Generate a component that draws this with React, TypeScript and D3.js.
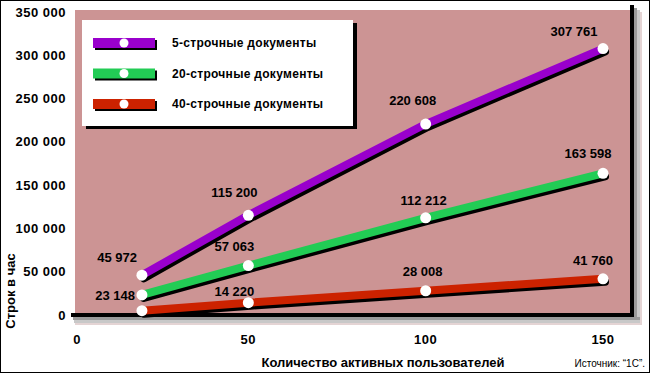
import React from "react";
import * as d3 from "d3";

const users = [20, 50, 100, 150];
const docs5 = [45972, 115200, 220608, 307761];
const docs20 = [23148, 57063, 112212, 163598];
const docs40 = [5000, 14220, 28008, 41760];
const labels5 = ["45 972", "115 200", "220 608", "307 761"];
const labels20 = ["23 148", "57 063", "112 212", "163 598"];
const labels40 = ["", "14 220", "28 008", "41 760"];
const seriesNames = ["5-строчные документы", "20-строчные документы", "40-строчные документы"];
const yTicks = [0, 50000, 100000, 150000, 200000, 250000, 300000, 350000];
const xTicks = [0, 50, 100, 150];

const colors = ["#9900cc", "#22cc55", "#cc2200"];
// label nudges relative to the point [dx, dy]
const nudges = [
  [[-5, -18], [-14, -23], [-13, -24], [-29, -17]],
  [[-7, 1], [-14, -19], [-2, -17], [-15, -20]],
  [[0, 0], [-14, -11], [-3, -19], [-10, -18]],
];

const W = 650;
const H = 373;
const font = "'Liberation Sans', Arial, sans-serif";

const App: React.FC = () => {
  const x = d3.scaleLinear().domain([0, 150]).range([71, 603]);
  const y = d3.scaleLinear().domain([0, 350000]).range([315, 12]);
  const fmt = (v: number) => d3.format(",")(v).replace(/,/g, " ");

  const series = [docs5, docs20, docs40];
  const labels = [labels5, labels20, labels40];
  const line = d3
    .line<number>()
    .x((_, i) => x(users[i]))
    .y((d) => y(d));

  const plot = { left: 75, right: 630, top: 10, bottom: 313 };

  return (
    <svg
      width={W}
      height={H}
      style={{ position: "absolute", left: 0, top: 0, background: "#fff" }}
      fontFamily={font}
    >
      <rect x={0.5} y={0.5} width={W - 1} height={H - 1} fill="#fff" stroke="#000" />

      {/* plot shadow */}
      <rect x={634} y={8} width={3} height={317} fill="#9a9a9a" />
      <rect x={637} y={10} width={3} height={315} fill="#c8c8c8" />
      <rect x={640} y={12} width={2} height={313} fill="#e4d4d4" />
      <rect x={73} y={317} width={567} height={3} fill="#9a9a9a" />
      <rect x={74} y={320} width={566} height={3} fill="#c8c8c8" />
      <rect x={75} y={323} width={565} height={2} fill="#e4d4d4" />

      <rect
        x={plot.left}
        y={plot.top}
        width={plot.right - plot.left}
        height={plot.bottom - plot.top}
        fill="#cc9494"
      />
      <rect x={630} y={5} width={4} height={312} fill="#000" />
      <rect x={71} y={313} width={563} height={4} fill="#000" />

      {/* legend */}
      <rect x={86} y={23} width={271} height={106} fill="#000" />
      <rect x={82} y={20} width={271} height={106} fill="#fff" />
      {seriesNames.map((name, i) => {
        const cy = 43 + i * 30.5;
        return (
          <g key={name}>
            <rect x={95} y={cy - 3} width={62} height={10} fill="#000" />
            <rect x={93} y={cy - 5} width={62} height={10} fill={colors[i]} />
            <circle cx={124} cy={cy} r={4.5} fill="#fff" />
            <text
              x={172}
              y={cy}
              dominantBaseline="central"
              fontSize={12}
              fontWeight="bold"
              letterSpacing={0.3}
              fill="#000"
            >
              {name}
            </text>
          </g>
        );
      })}

      {/* lines */}
      {series.map((s, i) => (
        <g key={"l" + i}>
          <path
            d={line(s) ?? ""}
            transform="translate(2,3)"
            fill="none"
            stroke="#000"
            strokeWidth={8}
            strokeLinecap="round"
          />
          <path d={line(s) ?? ""} fill="none" stroke={colors[i]} strokeWidth={8} strokeLinecap="butt" />
          {s.map((v, j) => (
            <circle key={j} cx={x(users[j])} cy={y(v)} r={5.5} fill="#fff" />
          ))}
          {s.map((v, j) => {
            const lab = labels[i][j];
            if (!lab) return null;
            const [dx, dy] = nudges[i][j];
            const first = j === 0;
            return (
              <text
                key={"t" + j}
                x={x(users[j]) + dx}
                y={y(v) + dy}
                textAnchor={first ? "end" : "middle"}
                dominantBaseline="central"
                fontSize={13}
                fontWeight="bold"
                fill="#000"
              >
                {lab}
              </text>
            );
          })}
        </g>
      ))}

      {/* y axis */}
      {yTicks.map((t) => (
        <text
          key={t}
          x={66}
          y={y(t)}
          textAnchor="end"
          dominantBaseline="central"
          fontSize={13}
          fontWeight="bold"
          letterSpacing={0.5}
        >
          {fmt(t)}
        </text>
      ))}
      <text
        transform="translate(10,291) rotate(-90)"
        textAnchor="middle"
        dominantBaseline="central"
        fontSize={13}
        fontWeight="bold"
      >
        Строк в час
      </text>

      {/* x axis */}
      {xTicks.map((t) => (
        <text
          key={t}
          x={t === 0 ? x(t) + 6 : x(t)}
          y={339}
          textAnchor="middle"
          dominantBaseline="central"
          fontSize={13}
          fontWeight="bold"
          letterSpacing={0.5}
        >
          {t}
        </text>
      ))}
      <text x={383} y={362} textAnchor="middle" dominantBaseline="central" fontSize={13} fontWeight="bold">
        Количество активных пользователей
      </text>
      <text x={645} y={363} textAnchor="end" dominantBaseline="central" fontSize={10}>
        Источник: “1С”.
      </text>
    </svg>
  );
};

export default App;
